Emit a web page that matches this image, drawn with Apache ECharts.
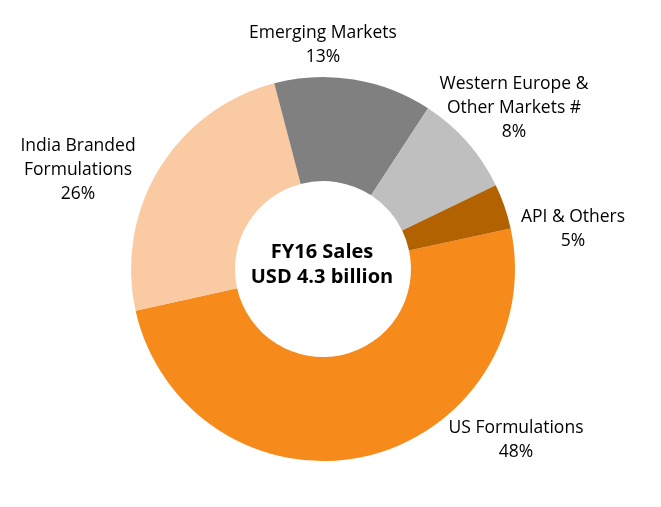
<!DOCTYPE html>
<html>
<head>
<meta charset="utf-8">
<script src="https://cdn.jsdelivr.net/npm/echarts@6/dist/echarts.min.js"></script>
<style>html,body{margin:0;padding:0;background:#fff}#chart{width:661px;height:507px}</style>
</head>
<body>
<div id="chart"></div>
<script>
// Data
var categories = ['US Formulations', 'India Branded\nFormulations', 'Emerging Markets', 'Western Europe &\nOther Markets #', 'API & Others'];
var shares = [49.9, 24.4, 13.3, 8.6, 3.8];           // slice sizes
var shareLabels = ['48%', '26%', '13%', '8%', '5%']; // percentages as printed
var centerTitle = ['FY16 Sales', 'USD 4.3 billion'];

// Styling / layout (kept separate from data)
var colors = ['#F68A1A', '#FACBA2', '#808080', '#BFBFBF', '#B26200'];
var labelAnchors = [[516, 440], [78, 170], [323, 45], [514, 108], [573, 229]];
var FONT = '"Open Sans", "Noto Sans", sans-serif';

var chart = echarts.init(document.getElementById('chart'), null, {renderer: 'canvas'});
chart.setOption({
  animation: false,
  backgroundColor: '#fff',
  graphic: [{
    type: 'text',
    x: 322, y: 265,
    style: {
      text: centerTitle.join('\n'),
      align: 'center', verticalAlign: 'middle',
      font: 'bold 20px ' + FONT,
      lineHeight: 25,
      fill: '#000'
    }
  }],
  series: [{
    type: 'pie',
    center: [323, 269],
    radius: [88, 192],
    startAngle: 12.2,
    clockwise: true,
    avoidLabelOverlap: false,
    itemStyle: {borderWidth: 0},
    label: {
      show: true,
      position: 'outside',
      color: '#000',
      fontFamily: FONT,
      fontSize: 17.5,
      lineHeight: 24,
      formatter: function (p) { return categories[p.dataIndex] + '\n' + shareLabels[p.dataIndex]; }
    },
    labelLine: {show: false},
    labelLayout: function (p) {
      var a = labelAnchors[p.dataIndex];
      return {x: a[0], y: a[1], align: 'center', verticalAlign: 'middle'};
    },
    emphasis: {disabled: true},
    data: categories.map(function (c, i) {
      return {name: c, value: shares[i], itemStyle: {color: colors[i]}};
    })
  }]
});
</script>
</body>
</html>
